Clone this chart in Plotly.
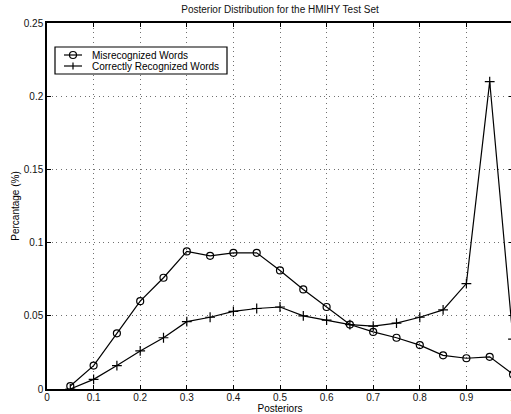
import plotly.graph_objects as go

posteriors = [0.05, 0.1, 0.15, 0.2, 0.25, 0.3, 0.35, 0.4, 0.45, 0.5,
              0.55, 0.6, 0.65, 0.7, 0.75, 0.8, 0.85, 0.9, 0.95, 1.0]
misrecognized = [0.002, 0.016, 0.038, 0.060, 0.076, 0.094, 0.091, 0.093, 0.093, 0.081,
                 0.068, 0.056, 0.044, 0.039, 0.035, 0.030, 0.023, 0.021, 0.022, 0.010]
correct = [0.0, 0.0066, 0.016, 0.026, 0.035, 0.046, 0.049, 0.053, 0.055, 0.056,
           0.050, 0.047, 0.044, 0.043, 0.045, 0.049, 0.054, 0.072, 0.210, 0.034]
series_names = ["Misrecognized Words", "Correctly Recognized Words"]

x_ticks = [0, 0.1, 0.2, 0.3, 0.4, 0.5, 0.6, 0.7, 0.8, 0.9, 1.0]
x_tick_labels = ["0", "0.1", "0.2", "0.3", "0.4", "0.5", "0.6", "0.7", "0.8", "0.9", "1"]
y_ticks = [0, 0.05, 0.1, 0.15, 0.2, 0.25]
y_tick_labels = ["0", "0.05", "0.1", "0.15", "0.2", "0.25"]

font_family = "Liberation Sans, Arial, Helvetica, sans-serif"

fig = go.Figure()
fig.add_trace(go.Scatter(
    x=posteriors, y=misrecognized, mode="lines+markers", name=series_names[0],
    line=dict(color="black", width=1.2), showlegend=False,
    marker=dict(symbol="circle-open", size=7, color="black", line=dict(width=1.2)),
))
fig.add_trace(go.Scatter(
    x=posteriors, y=correct, mode="lines+markers", name=series_names[1],
    line=dict(color="black", width=1.2), showlegend=False,
    marker=dict(symbol="cross-thin-open", size=7, color="black", line=dict(width=1.2, color="black")),
))

# --- compact legend box (MATLAB style), drawn in pixel offsets from plot's top-left ---
def px_shape(kind, x0, x1, y0, y1, **kw):
    return dict(type=kind, xref="paper", yref="paper", xsizemode="pixel", ysizemode="pixel",
                xanchor=0, yanchor=1, x0=x0, x1=x1, y0=y0, y1=y1, **kw)

shapes = [
    px_shape("rect", 8, 180, -24, -51, line=dict(color="black", width=1.2), fillcolor="white"),
]
row_offsets = [-32, -43]
for i, ry in enumerate(row_offsets):
    shapes.append(px_shape("line", 17, 35, ry, ry, line=dict(color="black", width=1.2)))
# circle key
shapes.append(px_shape("circle", 22.5, 29.5, row_offsets[0] - 3.5, row_offsets[0] + 3.5,
                       line=dict(color="black", width=1.2)))
# cross key (vertical bar; the horizontal part is the line sample)
shapes.append(px_shape("line", 26, 26, row_offsets[1] - 3.5, row_offsets[1] + 3.5,
                       line=dict(color="black", width=1.2)))

annotations = []
for name, ry in zip(series_names, row_offsets):
    annotations.append(dict(text=name, xref="paper", yref="paper", x=0, y=1,
                            xanchor="left", yanchor="middle", xshift=43, yshift=ry,
                            showarrow=False, font=dict(size=10, family=font_family, color="black")))

axis_common = dict(
    showgrid=True, gridcolor="#707070", griddash="1px,3.7px", gridwidth=1,
    showline=True, linecolor="black", linewidth=1.5, mirror="ticks",
    ticks="inside", ticklen=4, tickcolor="black", zeroline=False, automargin=False,
    tickfont=dict(family=font_family, size=10, color="#111111"),
)

fig.update_layout(
    width=560, height=414, autosize=False,
    margin=dict(l=47, r=47, t=23, b=25),
    paper_bgcolor="white", plot_bgcolor="white",
    font=dict(family=font_family, size=10, color="black"),
    title=dict(text="Posterior Distribution for the HMIHY Test Set", x=0.5, xref="paper",
               xanchor="center", y=0.978, yref="container", yanchor="middle",
               font=dict(size=10, family=font_family, color="#111111")),
    xaxis=dict(range=[0, 1], tickvals=x_ticks, ticktext=x_tick_labels, ticklabelstandoff=-2,
               title=dict(text="Posteriors", standoff=5, font=dict(size=10)), **axis_common),
    yaxis=dict(range=[0, 0.25], tickvals=y_ticks, ticktext=y_tick_labels,
               title=dict(text="Percantage (%)", standoff=2, font=dict(size=10)), **axis_common),
    shapes=shapes,
    annotations=annotations,
    showlegend=False,
)

fig.write_html("out.html", config={"displayModeBar": False},
               post_script="document.body.style.margin='0';document.body.style.overflow='hidden';")
